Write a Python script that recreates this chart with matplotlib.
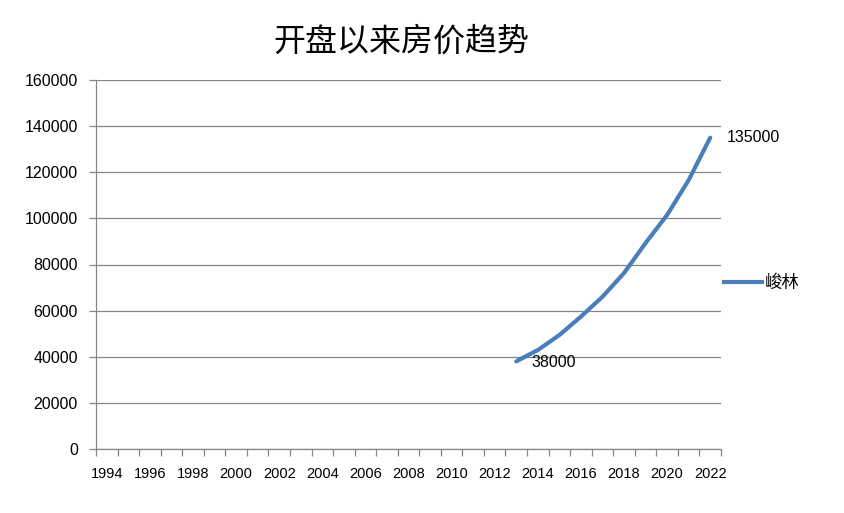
import numpy as np
import matplotlib
matplotlib.use('Agg')
import matplotlib.pyplot as plt
from matplotlib.lines import Line2D

plt.rcParams['font.family'] = ['Liberation Sans', 'Noto Sans CJK SC', 'DejaVu Sans']

years = list(range(1994, 2023))
line_years = [2013, 2014, 2015, 2016, 2017, 2018, 2019, 2020, 2021, 2022]
prices = [38000, 42900, 49400, 57400, 66000, 76300, 89300, 101500, 116600, 135000]
series_name = '峻林'
title = '开盘以来房价趋势'

grey = '#868686'
blue = '#4A7EBB'

fig = plt.figure(figsize=(8.45, 5.13), dpi=100)
ax = fig.add_axes([96 / 845, 64 / 513, 625 / 845, 369 / 513])

xs = [years.index(y) for y in line_years]
ax.plot(xs, prices, color=blue, lw=3, solid_capstyle='round', solid_joinstyle='round')

# data labels on first and last points
ax.annotate(f'{prices[0]}', (xs[0], prices[0]), xytext=(11, -1), textcoords='offset points',
            va='center', ha='left', fontsize=11.5)
ax.annotate(f'{prices[-1]}', (xs[-1], prices[-1]), xytext=(12, 0), textcoords='offset points',
            va='center', ha='left', fontsize=11.5)

ax.set_xlim(-0.5, len(years) - 0.5)
ax.set_ylim(0, 160000)
ax.set_yticks(range(0, 160001, 20000))
ax.grid(axis='y', color=grey, lw=0.9)
ax.set_axisbelow(True)

# category axis: ticks between categories, labels every 2 years
ax.set_xticks(np.arange(-0.5, len(years), 1))
ax.set_xticklabels([])
ax.set_xticks(range(0, len(years), 2), minor=True)
ax.set_xticklabels([str(y) for y in years[::2]], minor=True)
ax.tick_params(axis='x', which='major', length=5, color=grey, width=0.9)
ax.tick_params(axis='x', which='minor', length=0, pad=13, labelsize=10.5)
ax.tick_params(axis='y', length=5, color=grey, width=0.9, labelsize=11.5, pad=8)

for s in ['top', 'right']:
    ax.spines[s].set_visible(False)
for s in ['left', 'bottom']:
    ax.spines[s].set_color(grey)
    ax.spines[s].set_linewidth(0.9)

fig.text(401 / 845, 1 - 42 / 513, title, ha='center', va='center', fontsize=23,
         family=['Noto Sans CJK SC', 'DejaVu Sans'])

handle = Line2D([], [], color=blue, lw=3)
fig.legend([handle], [series_name], loc='center left', bbox_to_anchor=(708 / 845, 1 - 283 / 513),
           frameon=False, handlelength=2.2, handletextpad=0.15,
           prop={'family': ['Noto Sans CJK SC', 'DejaVu Sans'], 'size': 12.5})

fig.savefig('out.png', dpi=100)
